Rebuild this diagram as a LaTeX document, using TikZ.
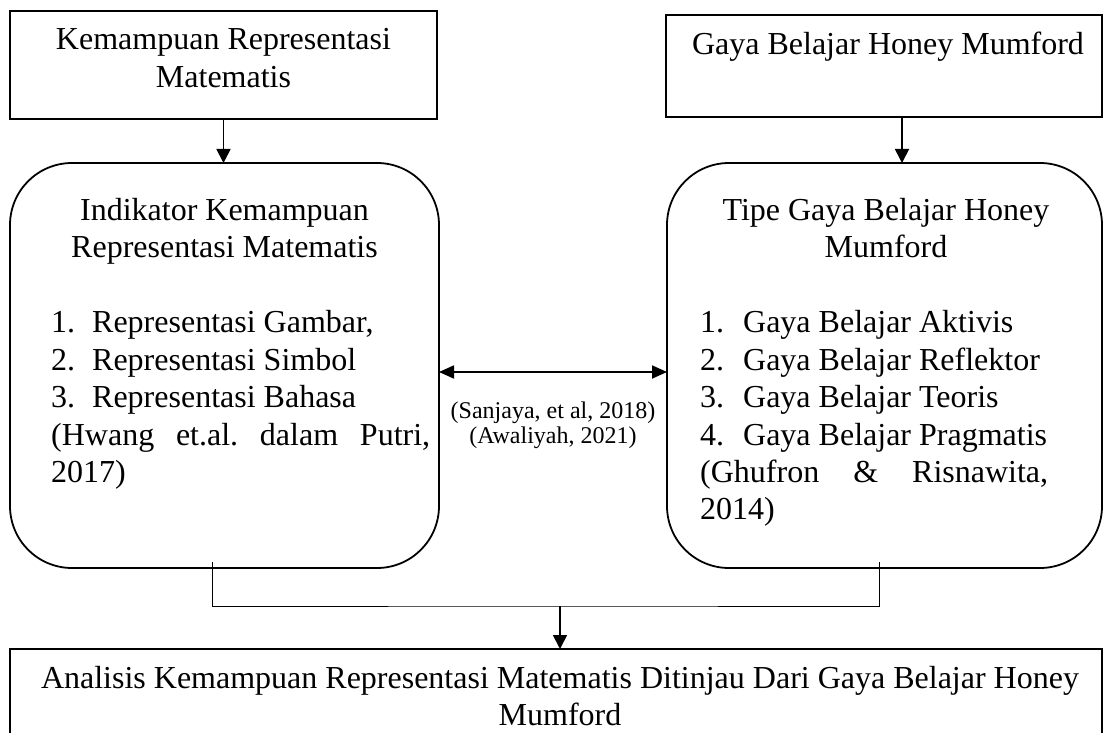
\documentclass[tikz,border=0pt]{standalone}
\usepackage{fontspec}
\setmainfont{Liberation Serif}
\usetikzlibrary{arrows.meta}
\frenchspacing
\begin{document}
\begin{tikzpicture}[x=1pt,y=-1pt,
  kotak/.style={draw, line width=1.8pt, inner sep=0pt, outer sep=0pt},
  bulat/.style={kotak, rounded corners=62pt},
  teks/.style={inner sep=0pt, anchor=base, font=\fontsize{32}{37.5}\selectfont},
  kecil/.style={inner sep=0pt, anchor=base, text width=240pt, align=flush center, font=\fontsize{24}{25}\selectfont},
  panah/.style={line width=1.8pt, -{Triangle[length=14pt,width=14pt]}},
  panahdua/.style={line width=1.8pt, {Triangle[length=15pt,width=13pt]}-{Triangle[length=15pt,width=13pt]}},
  garis/.style={line width=1pt}]
\useasboundingbox (0,0) rectangle (1104,733);

\node[kotak, minimum width=427pt, minimum height=108pt] (kemampuan) at (223.5,65) {};
\node[kotak, minimum width=436pt, minimum height=102pt] (gaya) at (884,66) {};
\node[teks, text width=420pt, align=flush center] (tkemampuan) at (223.5,50) {Kemampuan Representasi\\Matematis};
\node[teks, text width=430pt, align=flush center] (tgaya) at (888,55) {Gaya Belajar Honey Mumford};

\node[bulat, minimum width=429pt, minimum height=405pt] (indikator) at (224.5,365.5) {};
\node[bulat, minimum width=435pt, minimum height=405pt] (tipe) at (884.5,365.5) {};

\node[teks, text width=420pt, align=flush center] (jindikator) at (224.5,220) {Indikator Kemampuan\\Representasi Matematis};
\node[teks, anchor=base west, text width=379pt, align=justify] (dindikator) at (51,332.5) {%
\makebox[41pt][l]{1.}Representasi Gambar,\\
\makebox[41pt][l]{2.}Representasi Simbol\\
\makebox[41pt][l]{3.}Representasi Bahasa\\
(Hwang et.al. dalam Putri,\linebreak 2017)};

\node[teks, text width=425pt, align=flush center] (jtipe) at (886,220) {Tipe Gaya Belajar Honey\\Mumford};
\node[teks, anchor=base west, text width=348pt, align=justify] (dtipe) at (700,332.5) {%
\makebox[43pt][l]{1.}Gaya Belajar Aktivis\\
\makebox[43pt][l]{2.}Gaya Belajar Reflektor\\
\makebox[43pt][l]{3.}Gaya Belajar Teoris\\
\makebox[43pt][l]{4.}Gaya Belajar Pragmatis\\
(Ghufron \& Risnawita,\linebreak 2014)};

\node[kecil] (sumber) at (553,418) {(Sanjaya, et al, 2018)\\(Awaliyah, 2021)};

\node[kotak, minimum width=1092pt, minimum height=151pt] (analisis) at (556,724.5) {};
\node[teks, text width=1090pt, align=flush center] (tanalisis) at (560,688) {Analisis Kemampuan Representasi Matematis Ditinjau Dari Gaya Belajar Honey\\Mumford};

\path[draw,panah] (kemampuan.south) -- (kemampuan.south |- indikator.north);
\path[draw,panah] ([xshift=18pt]gaya.south) -- ([xshift=18pt]gaya.south |- tipe.north);
\path[draw,panahdua] ([yshift=-6.5pt]indikator.east) -- ([yshift=-6.5pt]indikator.east -| tipe.west);

\coordinate (kiri) at (212,562);
\coordinate (kanan) at (879,562);
\coordinate (gabung) at (560,606);
\path[draw,garis] (kiri) |- (gabung) -| (kanan);
\path[draw,panah] (gabung) -- (gabung |- analisis.north);
\end{tikzpicture}
\end{document}
